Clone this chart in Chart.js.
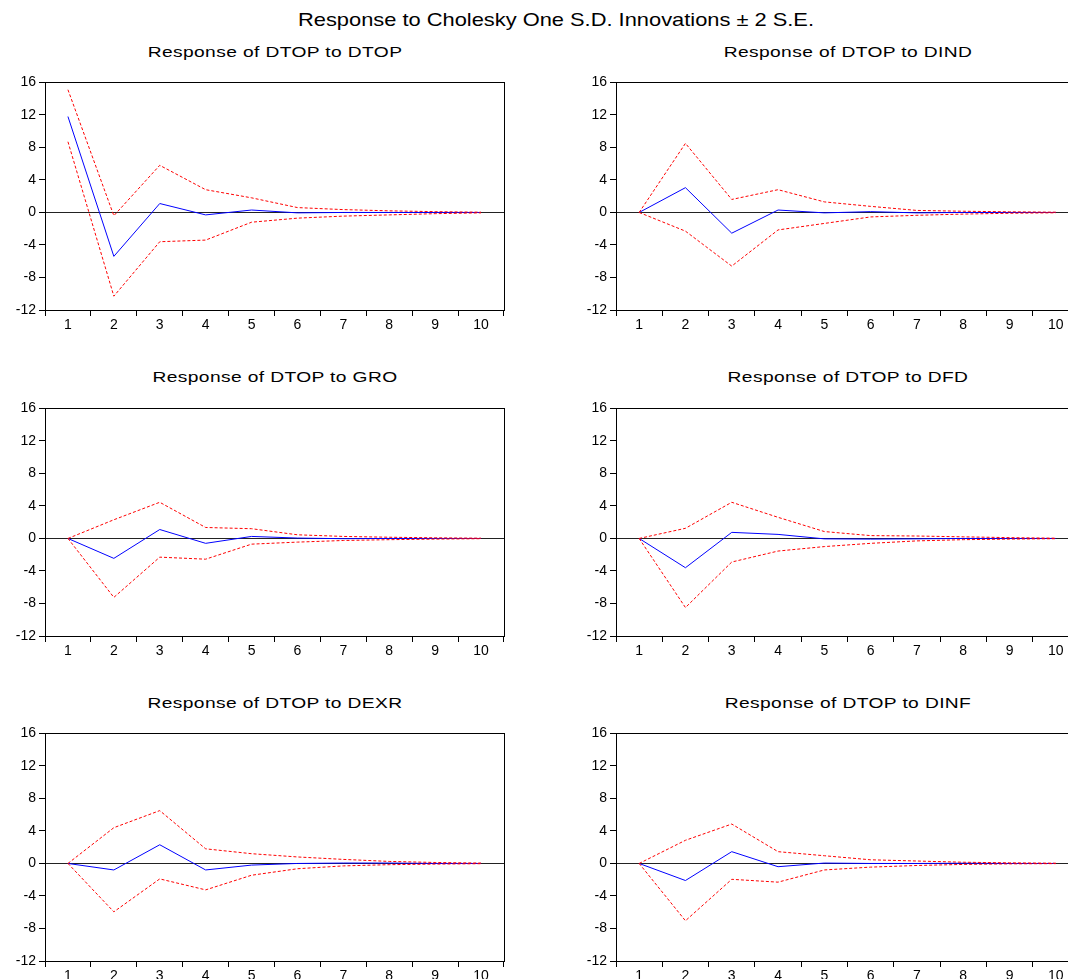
<!DOCTYPE html>
<html>
<head>
<meta charset="utf-8">
<script src="https://cdn.jsdelivr.net/npm/chart.js@4/dist/chart.umd.min.js"></script>
<style>
  html, body { margin: 0; padding: 0; background: #fff; }
  body { width: 1068px; height: 979px; position: relative; overflow: hidden; font-family: "Liberation Sans", Arial, sans-serif; }
  .main-title { position: absolute; left: 0; width: 1112px; top: 9px; text-align: center; font-size: 19px; color: #000; transform: scaleX(1.15); transform-origin: 556px 0; }
  .panel-title { position: absolute; width: 500px; text-align: center; font-size: 15px; color: #000; letter-spacing: 0.3px; transform: scaleX(1.28); }
  canvas { position: absolute; }
</style>
</head>
<body>
<div class="main-title">Response to Cholesky One S.D. Innovations ± 2 S.E.</div>

<script>
// horizons and y ticks
const horizons = ['1', '2', '3', '4', '5', '6', '7', '8', '9', '10'];
const yTicks = [-12, -8, -4, 0, 4, 8, 12, 16];

const panelTitles = [
  'Response of DTOP to DTOP', 'Response of DTOP to DIND',
  'Response of DTOP to GRO', 'Response of DTOP to DFD',
  'Response of DTOP to DEXR', 'Response of DTOP to DINF'
];

// impulse responses (blue) with +/- 2 S.E. bands (red)
const dtopResp  = [11.8, -5.4, 1.1, -0.3, 0.3, -0.05, 0.0, 0.0, 0.0, 0.0];
const dtopUpper = [15.1, -0.4, 5.8, 2.8, 1.8, 0.6, 0.35, 0.2, 0.1, 0.03];
const dtopLower = [8.7, -10.3, -3.6, -3.4, -1.2, -0.7, -0.45, -0.3, -0.15, -0.05];

const dindResp  = [0, 3.05, -2.55, 0.3, -0.05, 0.1, -0.05, 0.0, 0.0, 0.0];
const dindUpper = [0, 8.5, 1.6, 2.8, 1.3, 0.75, 0.25, 0.15, 0.08, 0.03];
const dindLower = [0, -2.3, -6.6, -2.15, -1.35, -0.55, -0.35, -0.2, -0.1, -0.04];

const groResp  = [0, -2.45, 1.1, -0.6, 0.25, 0.05, -0.03, 0.0, 0.0, 0.0];
const groUpper = [0, 2.3, 4.45, 1.35, 1.2, 0.45, 0.25, 0.15, 0.08, 0.03];
const groLower = [0, -7.25, -2.3, -2.55, -0.7, -0.45, -0.25, -0.15, -0.08, -0.03];

const dfdResp  = [0, -3.6, 0.75, 0.5, -0.05, -0.08, -0.05, 0.0, 0.0, 0.0];
const dfdUpper = [0, 1.25, 4.45, 2.6, 0.85, 0.35, 0.3, 0.2, 0.1, 0.03];
const dfdLower = [0, -8.5, -2.9, -1.55, -1.0, -0.6, -0.3, -0.15, -0.08, -0.03];

const dexrResp  = [0, -0.8, 2.3, -0.8, -0.2, 0.0, 0.05, 0.05, 0.0, 0.0];
const dexrUpper = [0, 4.4, 6.5, 1.8, 1.2, 0.8, 0.5, 0.25, 0.12, 0.05];
const dexrLower = [0, -5.95, -1.9, -3.25, -1.45, -0.65, -0.3, -0.15, -0.08, -0.03];

const dinfResp  = [0, -2.1, 1.45, -0.4, 0.05, 0.0, 0.0, 0.03, 0.0, 0.0];
const dinfUpper = [0, 2.85, 4.85, 1.45, 0.95, 0.45, 0.3, 0.15, 0.08, 0.03];
const dinfLower = [0, -7.05, -1.95, -2.3, -0.8, -0.45, -0.25, -0.12, -0.05, -0.02];

const panels = [
  [dtopResp, dtopUpper, dtopLower],
  [dindResp, dindUpper, dindLower],
  [groResp, groUpper, groLower],
  [dfdResp, dfdUpper, dfdLower],
  [dexrResp, dexrUpper, dexrLower],
  [dinfResp, dinfUpper, dinfLower]
];

// plot area boxes (left, right) per column, (top, bottom) per row
const cols = [[45, 504], [616, 1079]];
const rows = [[81, 310], [407, 636], [732, 961]];
const titleY = [43, 368, 694];
const AXIS_W = 45, AXIS_H = 30, PAD_T = 10, PAD_R = 10;

// draws the box round the plot area
const framePlugin = {
  id: 'frame',
  afterDatasetsDraw(chart) {
    const a = chart.chartArea, ctx = chart.ctx;
    ctx.save();
    ctx.strokeStyle = '#000';
    ctx.lineWidth = 1;
    ctx.strokeRect(Math.round(a.left) + 0.5, Math.round(a.top) + 0.5,
      Math.round(a.right - a.left), Math.round(a.bottom - a.top));
    ctx.restore();
  }
};

const tickFont = { family: '"Liberation Sans", Arial, sans-serif', size: 14 };

panels.forEach((p, i) => {
  const [L, R] = cols[i % 2];
  const [T, B] = rows[Math.floor(i / 2)];

  const title = document.createElement('div');
  title.className = 'panel-title';
  title.textContent = panelTitles[i];
  title.style.left = ((L + R) / 2 - 250) + 'px';
  title.style.top = titleY[Math.floor(i / 2)] + 'px';
  document.body.appendChild(title);

  const cv = document.createElement('canvas');
  const w = (R - L) + AXIS_W + PAD_R, h = (B - T) + PAD_T + AXIS_H;
  cv.width = w; cv.height = h;
  cv.style.width = w + 'px'; cv.style.height = h + 'px';
  cv.style.left = (L - AXIS_W) + 'px';
  cv.style.top = (T - PAD_T) + 'px';
  document.body.appendChild(cv);

  new Chart(cv.getContext('2d'), {
    type: 'line',
    data: {
      labels: horizons,
      datasets: [
        { data: p[1], borderColor: '#ff0000', borderDash: [3, 2], borderWidth: 1 },
        { data: p[2], borderColor: '#ff0000', borderDash: [3, 2], borderWidth: 1 },
        { data: p[0], borderColor: '#0000ff', borderWidth: 1 }
      ]
    },
    options: {
      responsive: false,
      animation: false,
      events: [],
      layout: { padding: { top: PAD_T, right: PAD_R, left: 0, bottom: 0 } },
      elements: { point: { radius: 0 }, line: { tension: 0 } },
      plugins: { legend: { display: false }, tooltip: { enabled: false } },
      scales: {
        x: {
          type: 'category',
          offset: true,
          grid: { offset: true, drawOnChartArea: false, tickLength: 6, color: '#000' },
          border: { color: '#000' },
          ticks: { font: tickFont, color: '#000', maxRotation: 0, autoSkip: false, padding: 1 },
          afterFit(s) { s.height = AXIS_H; }
        },
        y: {
          min: -12, max: 16,
          afterBuildTicks(s) { s.ticks = yTicks.map(v => ({ value: v })); },
          grid: {
            color: ctx => (ctx.tick && ctx.tick.value === 0) ? '#222' : 'rgba(0,0,0,0)',
            tickColor: '#000', tickLength: 6
          },
          border: { color: '#000' },
          ticks: { font: tickFont, color: '#000', padding: 3 },
          afterFit(s) { s.width = AXIS_W; }
        }
      }
    },
    plugins: [framePlugin]
  });
});
</script>
</body>
</html>
